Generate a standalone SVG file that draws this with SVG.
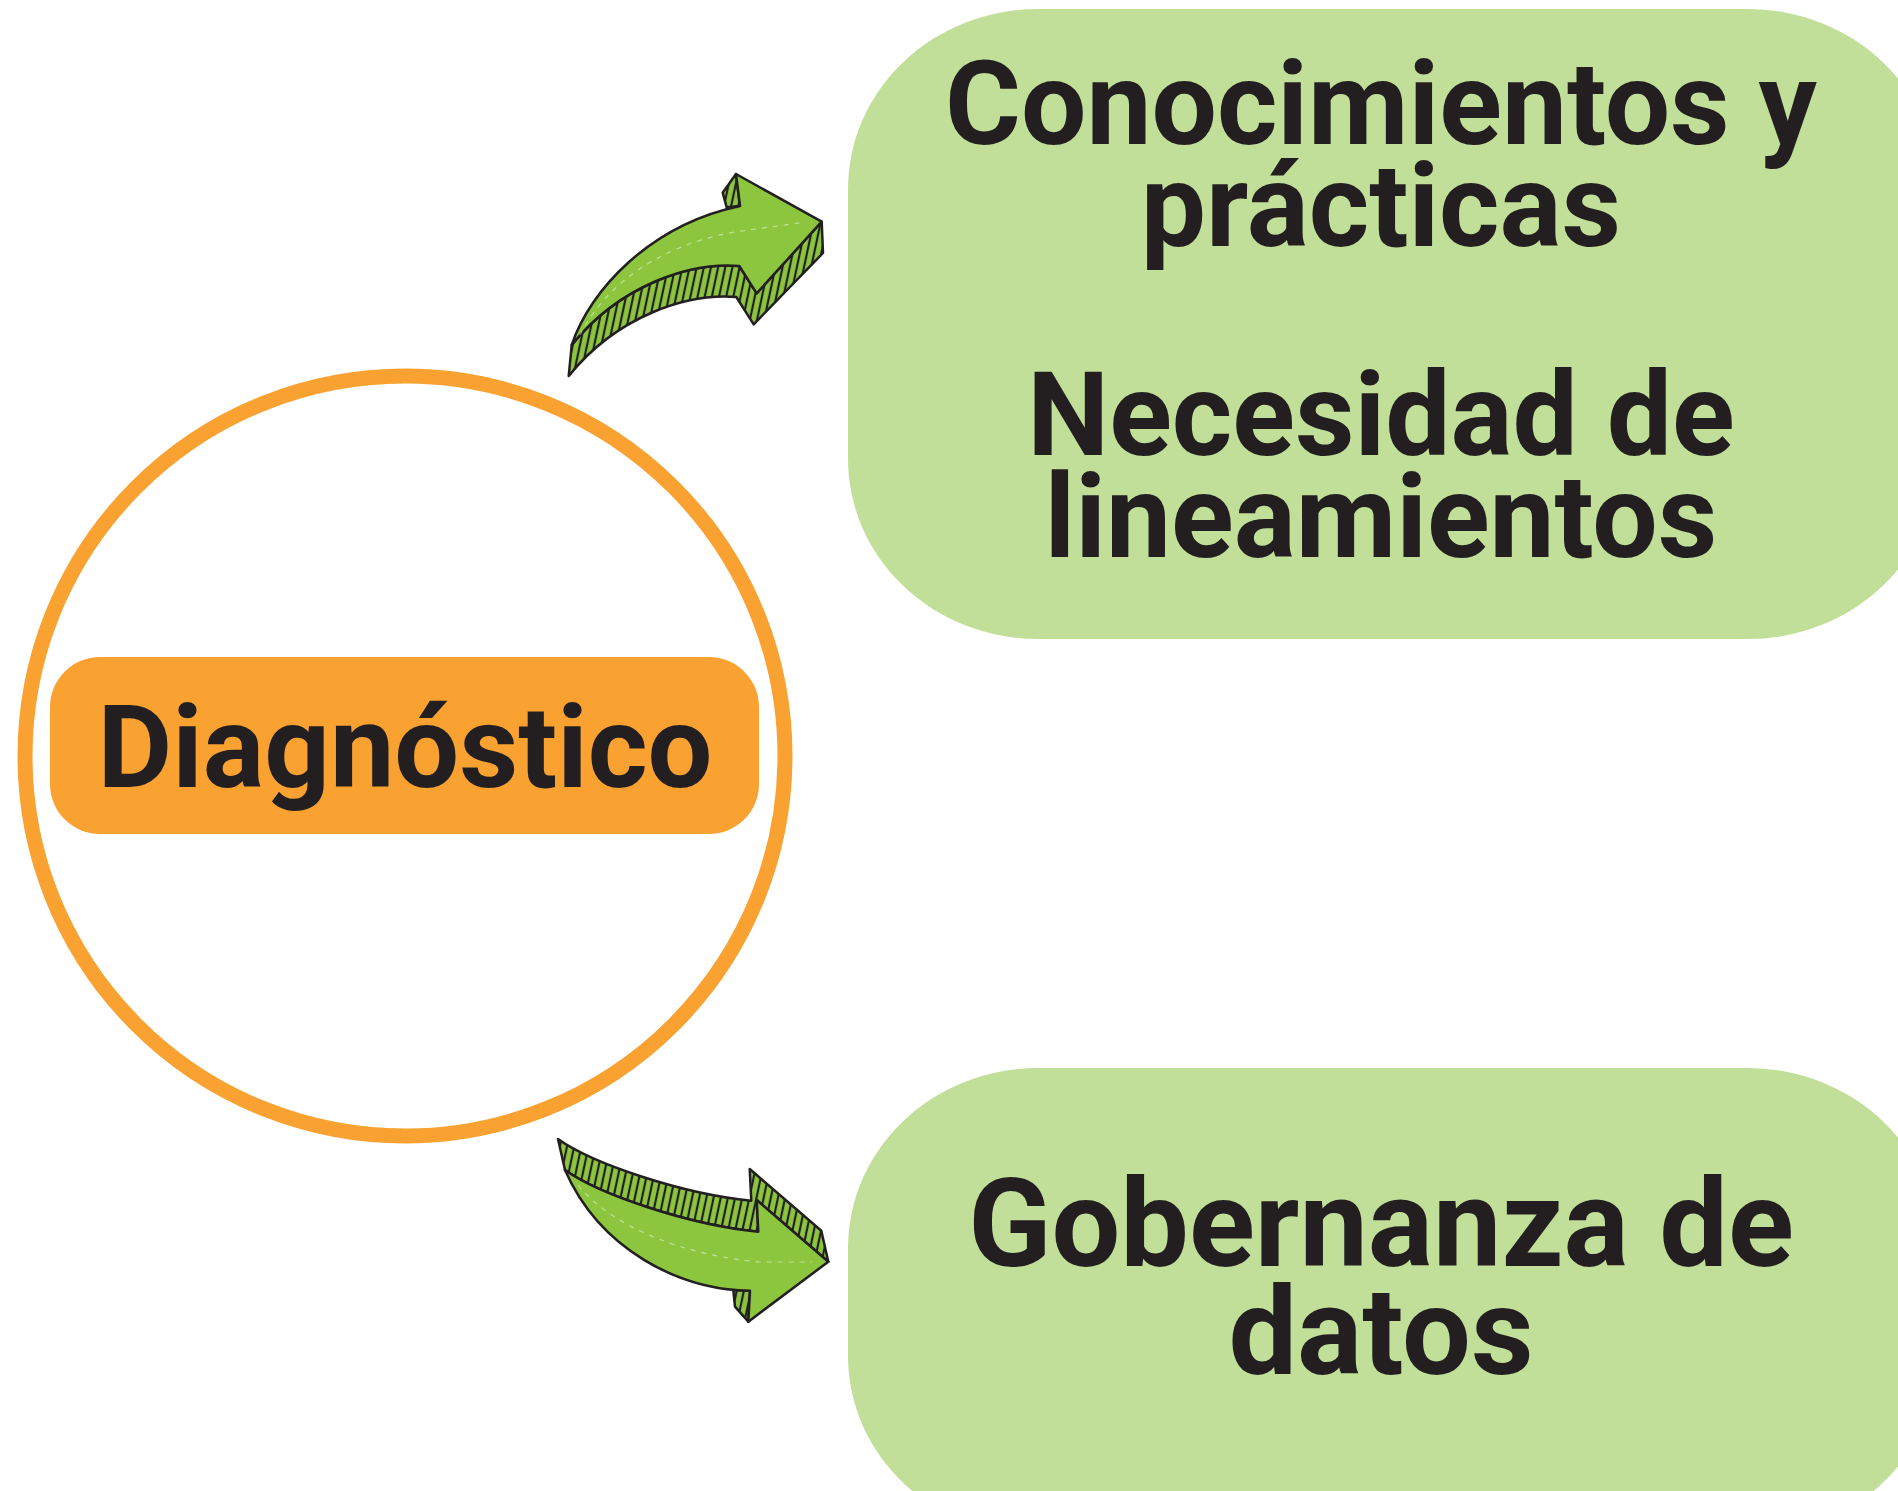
<svg xmlns="http://www.w3.org/2000/svg" width="1898" height="1491" viewBox="0 0 1898 1491">
<style>
.lbl{font-family:Roboto,"Liberation Sans",sans-serif;font-weight:700;fill:#231F20;text-anchor:middle}
.big{font-size:116px}
.big2{font-size:122px}
.face{fill:#8CC63F;stroke:#231F20;stroke-width:2.5;stroke-linejoin:round}
.ext{fill:url(#hatch);stroke:#231F20;stroke-width:2.5;stroke-linejoin:round}
.hl{fill:none;stroke:#ffffff;stroke-opacity:0.45;stroke-width:1.2;stroke-dasharray:5 6}
.box{fill:#C2DF99}
</style>
<defs>
<pattern id="hatch" width="7" height="7" patternUnits="userSpaceOnUse" patternTransform="rotate(12)">
<rect width="7" height="7" fill="#8CC63F"/>
<line x1="2" y1="0" x2="2" y2="7" stroke="#231F20" stroke-width="2.2"/>
</pattern>
</defs>
<rect width="1898" height="1491" fill="#ffffff"/>

<g id="diagnostico">
<circle cx="405" cy="756" r="380" fill="none" stroke="#F9A231" stroke-width="15"/>
<rect x="50" y="657" width="709" height="177" rx="50" fill="#F9A231"/>
<text class="lbl" x="405" y="787" font-size="115">Diagnóstico</text>
</g>

<g id="conocimientos">
<rect class="box" x="848" y="9" width="1090" height="630" rx="190" ry="180"/>
<text class="lbl big" x="1381" y="144">Conocimientos y</text>
<text class="lbl big" x="1381" y="246">prácticas</text>
<text class="lbl big" x="1381" y="455">Necesidad de</text>
<text class="lbl big" x="1381" y="557">lineamientos</text>
</g>

<g id="gobernanza">
<rect class="box" x="848" y="1068" width="1090" height="468" rx="190" ry="180"/>
<text class="lbl big2" x="1381" y="1266">Gobernanza de</text>
<text class="lbl big2" x="1381" y="1374">datos</text>
</g>

<g id="connectors">
<g id="arrow-top">
<polygon class="ext" points="722.7,192.7 736,174 740,206 726.7,207.3"/>
<path class="ext" d="M571.7,345 C620,285 690,262 739.3,266 L756.7,293.3 L821.7,221.7 L823,253 L753.7,324.3 L736.3,297 C687,293 617,316 568.7,376 Z"/>
<path class="face" d="M571.7,345 C590,290 650,225 740,206 L736,174 L821.7,221.7 L756.7,293.3 L739.3,266 C690,262 620,285 571.7,345 Z"/>
<path class="hl" d="M580,335 C605,285 660,245 735,232 L805,222"/>
</g>
<g id="arrow-bottom">
<polygon class="ext" points="733.3,1290 750,1290.7 748.3,1321.7 735,1306.7"/>
<path class="ext" d="M565,1170 C600,1195 690,1225 758.3,1231.7 L756.7,1200 L828.3,1261.7 L821.3,1230.7 L749.7,1169 L751.3,1200.7 C683,1194 593,1164 558,1139 Z"/>
<path class="face" d="M565,1170 C600,1195 690,1225 758.3,1231.7 L756.7,1200 L828.3,1261.7 L748.3,1321.7 L750,1290.7 C680,1290 600,1250 565,1170 Z"/>
<path class="hl" d="M578,1185 C610,1225 680,1255 760,1262 L812,1262"/>
</g>
</g>
</svg>
